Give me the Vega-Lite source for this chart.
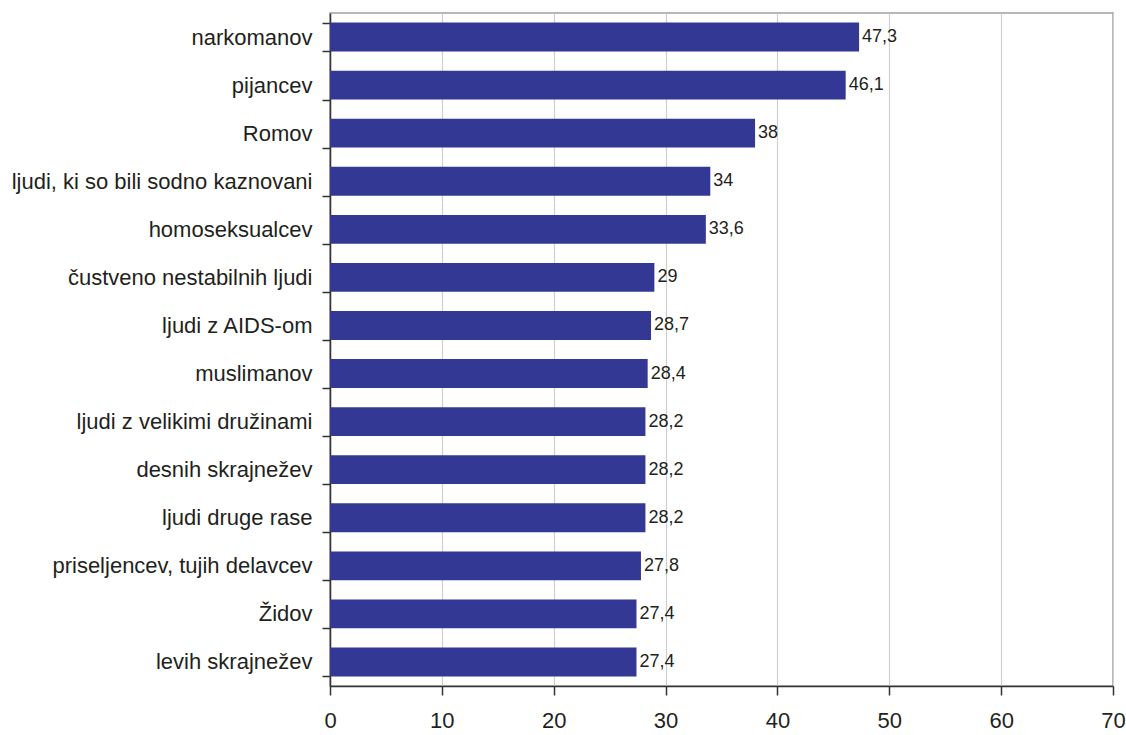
{
  "$schema": "https://vega.github.io/schema/vega-lite/v6.json",
  "autosize": "none",
  "width": 783,
  "height": 673,
  "padding": {"left": 330, "top": 13, "right": 13, "bottom": 49},
  "background": "#ffffff",
  "config": {
    "locale": {"number": {"decimal": ",", "thousands": ".", "grouping": [3], "currency": ["", " €"]}},
    "font": "Liberation Sans",
    "view": {"stroke": "#a0a0a0", "strokeWidth": 1.5}
  },
  "data": {
    "values": [
      {"skupina": "narkomanov", "odstotek": 47.3},
      {"skupina": "pijancev", "odstotek": 46.1},
      {"skupina": "Romov", "odstotek": 38},
      {"skupina": "ljudi, ki so bili sodno kaznovani", "odstotek": 34},
      {"skupina": "homoseksualcev", "odstotek": 33.6},
      {"skupina": "čustveno nestabilnih ljudi", "odstotek": 29},
      {"skupina": "ljudi z AIDS-om", "odstotek": 28.7},
      {"skupina": "muslimanov", "odstotek": 28.4},
      {"skupina": "ljudi z velikimi družinami", "odstotek": 28.2},
      {"skupina": "desnih skrajnežev", "odstotek": 28.2},
      {"skupina": "ljudi druge rase", "odstotek": 28.2},
      {"skupina": "priseljencev, tujih delavcev", "odstotek": 27.8},
      {"skupina": "Židov", "odstotek": 27.4},
      {"skupina": "levih skrajnežev", "odstotek": 27.4}
    ]
  },
  "encoding": {
    "y": {
      "field": "skupina",
      "type": "nominal",
      "sort": null,
      "scale": {"paddingInner": 0.4, "paddingOuter": 0.2},
      "axis": {
        "title": null,
        "labelFontSize": 22,
        "labelColor": "#231f20",
        "labelPadding": 10,
        "labelLimit": 400,
        "tickSize": 8,
        "tickColor": "#333333",
        "domainColor": "#333333",
        "domainWidth": 1.5,
        "tickWidth": 1.5,
        "tickBand": "extent"
      }
    },
    "x": {
      "field": "odstotek",
      "type": "quantitative",
      "scale": {"domain": [0, 70], "nice": false},
      "axis": {
        "title": null,
        "values": [0, 10, 20, 30, 40, 50, 60, 70],
        "labelFontSize": 22,
        "labelColor": "#231f20",
        "labelPadding": 15,
        "labelFlush": false,
        "tickSize": 9,
        "tickColor": "#333333",
        "tickWidth": 1.5,
        "domainColor": "#333333",
        "domainWidth": 1.5,
        "grid": true,
        "gridColor": "#d0d0d0",
        "gridWidth": 1.2
      }
    }
  },
  "layer": [
    {"mark": {"type": "bar", "color": "#333894"}},
    {
      "mark": {"type": "text", "align": "left", "dx": 3, "fontSize": 18, "color": "#231f20", "font": "Liberation Sans"},
      "encoding": {"text": {"field": "odstotek", "type": "quantitative", "format": "~f"}}
    }
  ]
}
